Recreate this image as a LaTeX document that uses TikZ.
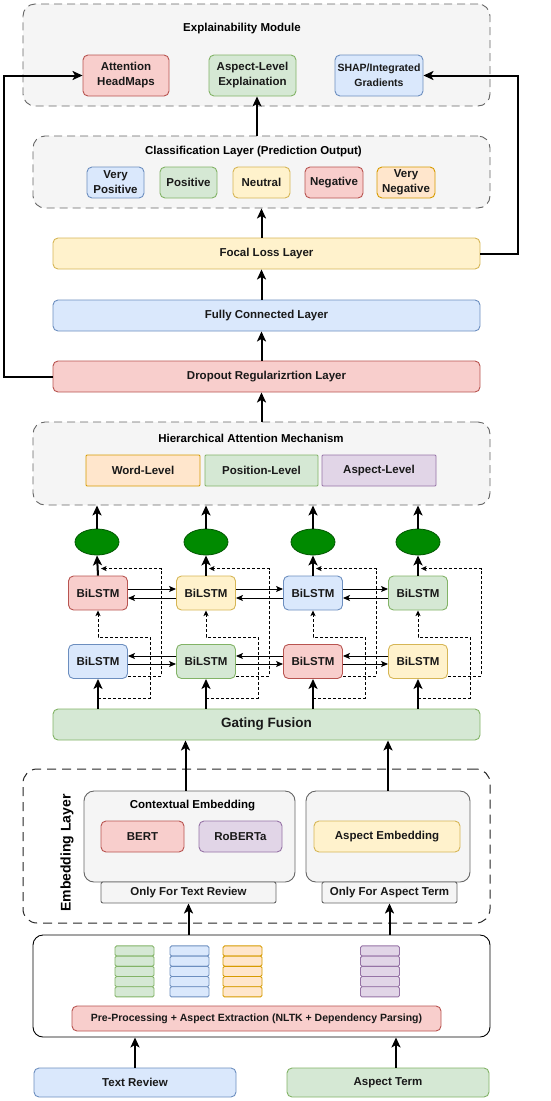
\documentclass[tikz,border=0pt]{standalone}
\usepackage{fontspec}
\setmainfont{Liberation Sans}
\usetikzlibrary{arrows.meta,positioning,calc,shapes.geometric}
\definecolor{BlueFill}{HTML}{DAE8FC}
\definecolor{BlueLine}{HTML}{6C8EBF}
\definecolor{GreenFill}{HTML}{D5E8D4}
\definecolor{GreenLine}{HTML}{82B366}
\definecolor{YellowFill}{HTML}{FFF2CC}
\definecolor{YellowLine}{HTML}{D6B656}
\definecolor{RedFill}{HTML}{F8CECC}
\definecolor{RedLine}{HTML}{B85450}
\definecolor{OrangeFill}{HTML}{FFE6CC}
\definecolor{OrangeLine}{HTML}{D79B00}
\definecolor{PurpleFill}{HTML}{E1D5E7}
\definecolor{PurpleLine}{HTML}{9673A6}
\definecolor{GrayFill}{HTML}{F5F5F5}
\definecolor{GrayLine}{HTML}{666666}
\definecolor{CellGreen}{HTML}{008A00}
\definecolor{CellGreenLine}{HTML}{005700}

\begin{document}
\begin{tikzpicture}[x=1pt,y=-1pt,
    box/.style={rounded corners=5pt,draw,line width=0.9pt,inner sep=0pt,align=center,
      font=\bfseries\fontsize{11.5}{15}\selectfont,text=black!90},
    bluebox/.style={box,fill=BlueFill,draw=BlueLine},
    greenbox/.style={box,fill=GreenFill,draw=GreenLine},
    yellowbox/.style={box,fill=YellowFill,draw=YellowLine},
    redbox/.style={box,fill=RedFill,draw=RedLine},
    orangebox/.style={box,fill=OrangeFill,draw=OrangeLine},
    purplebox/.style={box,fill=PurpleFill,draw=PurpleLine},
    graybox/.style={box,fill=GrayFill,draw=GrayLine},
    groupbox/.style={rounded corners=12pt,draw=GrayLine,fill=GrayFill,line width=0.9pt,
      dash pattern=on 8pt off 5pt},
    title/.style={font=\bfseries\fontsize{11.5}{14}\selectfont,inner sep=0pt},
    lstm/.style={box,minimum width=59pt,minimum height=34pt},
    attcell/.style={ellipse,fill=CellGreen,draw=CellGreenLine,line width=0.8pt,
      minimum width=44pt,minimum height=26pt,inner sep=0pt},
    flow/.style={-{Stealth[length=10pt,width=9pt,inset=2.5pt]},line width=2pt},
    thinflow/.style={-{Stealth[length=7pt,width=6pt,inset=1.5pt]},line width=1pt},
    dashflow/.style={-{Stealth[length=5.5pt,width=5pt,inset=1.2pt]},line width=0.9pt,
      dash pattern=on 3pt off 2pt}
  ]
    \useasboundingbox (0,0) rectangle (550,1101);

    % explainability module
    \node[groupbox,minimum width=467pt,minimum height=102pt] (xai) at (256.5,55) {};
    \node[title] (xaititle) at (242,29) {Explainability Module};
    \node[redbox,minimum width=86pt,minimum height=41pt] (attn) at (126,75.5) {Attention\\HeadMaps};
    \node[greenbox,minimum width=87pt,minimum height=41pt] (aspexp) at (252.5,75.5) {Aspect-Level\\Explaination};
    \node[bluebox,minimum width=88pt,minimum height=41pt,
      font=\bfseries\fontsize{10.5}{15}\selectfont] (shap) at (379,75.5) {SHAP/Integrated\\Gradients};

    % classification layer
    \node[groupbox,minimum width=457pt,minimum height=72pt] (cls) at (261.5,172) {};
    \node[title] (clstitle) at (253.5,152) {Classification Layer (Prediction Output)};
    \node[bluebox,minimum width=57pt,minimum height=31pt] (vpos) at (115.5,182.5) {Very\\Positive};
    \node[greenbox,minimum width=57pt,minimum height=31pt] (pos) at (188.5,182.5) {Positive};
    \node[yellowbox,minimum width=57pt,minimum height=31pt] (neu) at (261.5,182.5) {Neutral};
    \node[redbox,minimum width=58pt,minimum height=31pt] (neg) at (334,182.5) {Negative};
    \node[orangebox,minimum width=58pt,minimum height=31pt] (vneg) at (406,182.5) {Very\\Negative};

    % dense part
    \node[yellowbox,minimum width=427pt,minimum height=31pt] (focal) at (266.5,253.5) {Focal Loss Layer};
    \node[bluebox,minimum width=427pt,minimum height=31pt] (fc) at (266.5,315.5) {Fully Connected Layer};
    \node[redbox,minimum width=427pt,minimum height=31pt] (drop) at (266.5,376.5) {Dropout Regularizrtion Layer};

    % attention
    \node[groupbox,minimum width=457pt,minimum height=83pt] (ham) at (261.5,463.5) {};
    \node[title] (hamtitle) at (251,438) {Hierarchical Attention Mechanism};
    \node[orangebox,rounded corners=1pt,minimum width=114pt,minimum height=31pt] (word) at (143,470.5) {Word-Level};
    \node[greenbox,rounded corners=1pt,minimum width=113pt,minimum height=31pt] (posl) at (261.5,470.5) {Position-Level};
    \node[purplebox,rounded corners=1pt,minimum width=114pt,minimum height=31pt] (aspl) at (379,470.5) {Aspect-Level};

    \node[attcell] (e1) at (97,542) {};
    \node[attcell] (e2) at (206,542) {};
    \node[attcell] (e3) at (313,542) {};
    \node[attcell] (e4) at (418,542) {};

    % stacked BiLSTM
    \node[lstm,redbox] (u1) at (98,593) {BiLSTM};
    \node[lstm,yellowbox] (u2) at (206,593) {BiLSTM};
    \node[lstm,bluebox] (u3) at (313,593) {BiLSTM};
    \node[lstm,greenbox] (u4) at (418,593) {BiLSTM};
    \node[lstm,bluebox] (l1) at (98,661.5) {BiLSTM};
    \node[lstm,greenbox] (l2) at (206,661.5) {BiLSTM};
    \node[lstm,redbox] (l3) at (313,661.5) {BiLSTM};
    \node[lstm,yellowbox] (l4) at (418,661.5) {BiLSTM};

    \node[greenbox,minimum width=427pt,minimum height=31pt,
      font=\bfseries\fontsize{13.5}{16}\selectfont] (gate) at (266.5,724.5) {Gating Fusion};

    % embedding layer
    \node[draw=black!85,rounded corners=14pt,line width=1pt,dash pattern=on 9pt off 6pt,
      minimum width=467pt,minimum height=154pt] (emb) at (256.5,846) {};
    \node[rotate=90,font=\bfseries\fontsize{14}{16}\selectfont] (embtitle) at (67,853) {Embedding Layer};
    \node[graybox,rounded corners=10pt,minimum width=211pt,minimum height=91pt] (ctx) at (189.5,836.5) {};
    \node[title] (ctxtitle) at (192.5,806) {Contextual Embedding};
    \node[redbox,minimum width=83pt,minimum height=31pt] (bert) at (142.5,836.5) {BERT};
    \node[purplebox,minimum width=83pt,minimum height=31pt] (roberta) at (240.5,836.5) {RoBERTa};
    \node[graybox,rounded corners=10pt,minimum width=164pt,minimum height=91pt] (aspbox) at (388,836.5) {};
    \node[yellowbox,minimum width=146pt,minimum height=31pt] (aspemb) at (387,836.5) {Aspect Embedding};
    \node[graybox,rounded corners=2pt,minimum width=175pt,minimum height=21pt] (onlytext) at (188.5,892.5) {Only For Text Review};
    \node[graybox,rounded corners=2pt,minimum width=135pt,minimum height=21pt] (onlyasp) at (389.5,892.5) {Only For Aspect Term};

    % pre-processing
    \node[box,draw=black,fill=white,rounded corners=10pt,minimum width=457pt,minimum height=102pt] (prep) at (261.5,986) {};
    \foreach \sx/\sc in {134.5/Green,189.5/Blue,242.5/Orange,380/Purple}
      \foreach \k in {0,...,4}
        \node[box,fill=\sc Fill,draw=\sc Line,rounded corners=1.5pt,minimum width=39pt,
          minimum height=10.2pt] (cell\sc\k) at (\sx,951+10.2*\k) {};
    \node[redbox,minimum width=369pt,minimum height=25pt,
      font=\bfseries\fontsize{10.5}{13}\selectfont] (nltk) at (256.5,1018.5)
      {Pre-Processing + Aspect Extraction (NLTK + Dependency Parsing)};
    \node[bluebox,minimum width=202pt,minimum height=29pt] (textrev) at (135,1082.5) {Text Review};
    \node[greenbox,minimum width=202pt,minimum height=29pt] (aspterm) at (388,1082.5) {Aspect Term};

    % connectors
    \draw[flow] (textrev.north) -- (textrev.north |- prep.south);
    \draw[flow] ([xshift=8pt]aspterm.north) -- ([xshift=8pt]aspterm.north |- prep.south);
    \draw[flow] (onlytext.south |- prep.north) -- (onlytext.south);
    \draw[flow] (onlyasp.south |- prep.north) -- (onlyasp.south);
    \draw[flow] ([xshift=-4pt]ctx.north) -- ([xshift=-4pt]ctx.north |- gate.south);
    \draw[flow] (aspbox.north) -- (aspbox.north |- gate.south);

    \draw[flow] (gate.north -| l1.south) -- (l1.south);
    \draw[flow] (gate.north -| l2.south) -- (l2.south);
    \draw[flow] (gate.north -| l3.south) -- (l3.south);
    \draw[flow] (gate.north -| l4.south) -- (l4.south);

    \draw[thinflow] ([yshift=-2.5pt]l1.east) -- ([yshift=-2.5pt]l2.west);
    \draw[thinflow] ([yshift=-2.5pt]l2.east) -- ([yshift=-2.5pt]l3.west);
    \draw[thinflow] ([yshift=-2.5pt]l3.east) -- ([yshift=-2.5pt]l4.west);
    \draw[thinflow] ([yshift=5.5pt]l2.west) -- ([yshift=5.5pt]l1.east);
    \draw[thinflow] ([yshift=5.5pt]l3.west) -- ([yshift=5.5pt]l2.east);
    \draw[thinflow] ([yshift=5.5pt]l4.west) -- ([yshift=5.5pt]l3.east);
    \draw[thinflow] ([yshift=4pt]u1.east) -- ([yshift=4pt]u2.west);
    \draw[thinflow] ([yshift=4pt]u2.east) -- ([yshift=4pt]u3.west);
    \draw[thinflow] ([yshift=4pt]u3.east) -- ([yshift=4pt]u4.west);
    \draw[thinflow] ([yshift=-5pt]u2.west) -- ([yshift=-5pt]u1.east);
    \draw[thinflow] ([yshift=-5pt]u3.west) -- ([yshift=-5pt]u2.east);
    \draw[thinflow] ([yshift=-5pt]u4.west) -- ([yshift=-5pt]u3.east);

    % residual paths
    \draw[dashflow] ([yshift=-19pt]l1.south) -- ++(52,0) -- ++(0,-61) -| (u1.south);
    \draw[dashflow] ([yshift=-19pt]l2.south) -- ++(52,0) -- ++(0,-61) -| (u2.south);
    \draw[dashflow] ([yshift=-19pt]l3.south) -- ++(52,0) -- ++(0,-61) -| (u3.south);
    \draw[dashflow] ([yshift=-19pt]l4.south) -- ++(52,0) -- ++(0,-61) -| (u4.south);
    \draw[dashflow] ([yshift=2.5pt]l1.south east) -- ++(33,0) |- ($(u1.north)+(3,-7)$);
    \draw[dashflow] ([yshift=2.5pt]l2.south east) -- ++(33,0) |- ($(u2.north)+(3,-7)$);
    \draw[dashflow] ([yshift=2.5pt]l3.south east) -- ++(33,0) |- ($(u3.north)+(3,-7)$);
    \draw[dashflow] ([yshift=2.5pt]l4.south east) -- ++(33,0) |- ($(u4.north)+(3,-7)$);

    \draw[flow] (u1.north) -- (e1.south);
    \draw[flow] (u2.north) -- (e2.south);
    \draw[flow] (u3.north) -- (e3.south);
    \draw[flow] (u4.north) -- (e4.south);
    \draw[flow] (e1.north) -- (e1.north |- ham.south);
    \draw[flow] (e2.north) -- (e2.north |- ham.south);
    \draw[flow] (e3.north) -- (e3.north |- ham.south);
    \draw[flow] (e4.north) -- (e4.north |- ham.south);

    \draw[flow] (ham.north) -- (drop.south -| ham.north);
    \draw[flow] (drop.north -| cls.south) -- (fc.south -| cls.south);
    \draw[flow] (fc.north -| cls.south) -- (focal.south -| cls.south);
    \draw[flow] (focal.north -| cls.south) -- (cls.south);
    \draw[flow] ([xshift=4.5pt]aspexp.south |- cls.north) -- ([xshift=4.5pt]aspexp.south);
    \draw[flow] (drop.west) -- ++(-49,0) |- (attn.west);
    \draw[flow] (focal.east) -- ++(38,0) |- (shap.east);
  \end{tikzpicture}
\end{document}
